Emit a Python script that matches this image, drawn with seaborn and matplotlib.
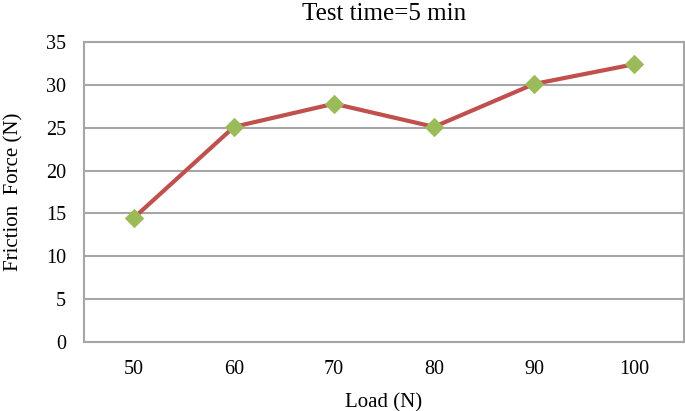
import matplotlib
matplotlib.use("Agg")
import matplotlib.pyplot as plt
import seaborn as sns
import pandas as pd

loads = ["50", "60", "70", "80", "90", "100"]
friction = [14.5, 25.1, 27.8, 25.1, 30.1, 32.4]
yticks = [0, 5, 10, 15, 20, 25, 30, 35]

sns.set_theme(style="white")
plt.rcParams["font.family"] = ["Liberation Serif", "DejaVu Serif"]

df = pd.DataFrame({"Load": loads, "Friction": friction})

fig = plt.figure(figsize=(6.85, 4.11), dpi=100)
ax = fig.add_axes([84/685, (411-342)/411, 600/685, 300/411])

sns.lineplot(data=df, x="Load", y="Friction", ax=ax, color="#c0504d", linewidth=3,
             marker="D", markersize=9, markerfacecolor="#9bbb59", markeredgecolor="#9bbb59",
             sort=False, zorder=3)

ax.set_xlim(-0.5, 5.5)
ax.set_ylim(0, 35)
ax.set_yticks(yticks)
ax.yaxis.grid(True, color="#a6a6a6", linewidth=1.5)
ax.set_axisbelow(True)
for s in ax.spines.values():
    s.set_color("#a6a6a6")
    s.set_linewidth(1.5)
ax.tick_params(axis="both", length=0, labelsize=14.5, colors="black")
ax.tick_params(axis="x", pad=13)
ax.tick_params(axis="y", pad=13)
ax.set_xlabel("Load (N)", fontsize=15, color="black", labelpad=10)
ax.set_ylabel("Friction  Force (N)", fontsize=15, color="black", labelpad=16)
ax.set_title("Test time=5 min", fontsize=18, color="black", pad=16)

fig.savefig("out.png", dpi=100)
